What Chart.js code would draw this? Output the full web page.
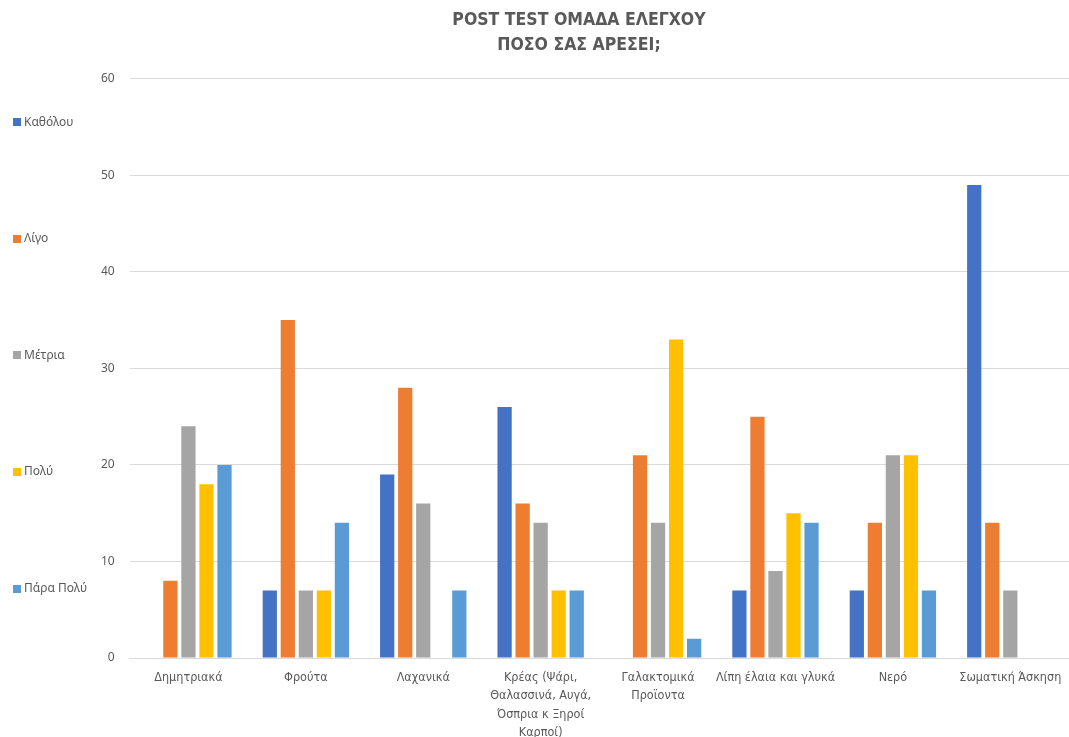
<!DOCTYPE html>
<html>
<head>
<meta charset="utf-8">
<script src="https://cdn.jsdelivr.net/npm/chart.js@4/dist/chart.umd.min.js"></script>
<style>
  html, body { margin: 0; padding: 0; background: #ffffff; overflow: hidden; }
  #wrap { width: 1069px; height: 737px; }
</style>
</head>
<body>
<div id="wrap"><canvas id="chart" width="1069" height="737"></canvas></div>
<script>
// Food groups (x axis), wrapped into lines the way they are printed under the bars
const categories = [
  'Δημητριακά',
  'Φρούτα',
  'Λαχανικά',
  ['Κρέας (Ψάρι,', 'Θαλασσινά, Αυγά,', 'Όσπρια κ Ξηροί', 'Καρποί)'],
  ['Γαλακτομικά', 'Προϊοντα'],
  'Λίπη έλαια και γλυκά',
  'Νερό',
  'Σωματική Άσκηση'
];

// Answers to "how much do you like it", one array per answer
const seriesNames = ['Καθόλου', 'Λίγο', 'Μέτρια', 'Πολύ', 'Πάρα Πολύ'];
const kathólou  = [0, 7, 19, 26, 0, 7, 7, 49];
const ligo      = [8, 35, 28, 16, 21, 25, 14, 14];
const metria    = [24, 7, 16, 14, 14, 9, 21, 7];
const poly      = [18, 7, 0, 7, 33, 15, 21, 0];
const paraPoly  = [20, 14, 7, 7, 2, 14, 7, 0];

const yTicks = [0, 10, 20, 30, 40, 50, 60];

const seriesValues = [kathólou, ligo, metria, poly, paraPoly];
const seriesColors = ['#4472C4', '#ED7D31', '#A5A5A5', '#FFC000', '#5B9BD5'];

const textColor = '#595959';
const gridColor = '#D9D9D9';
const narrowFont = '"DejaVu Sans Condensed", "Liberation Sans Narrow", sans-serif';

// Legend stacked down the left edge, spread over the height of the plot
const sideLegend = {
  id: 'sideLegend',
  afterDraw(chart) {
    const { ctx, chartArea } = chart;
    const h = chartArea.bottom - chartArea.top;
    ctx.save();
    ctx.font = '12px "Noto Sans", "DejaVu Sans", sans-serif';
    ctx.textBaseline = 'middle';
    ctx.textAlign = 'left';
    chart.data.datasets.forEach((ds, i) => {
      const cy = chartArea.top + h * (0.075 + 0.2013 * i);
      ctx.fillStyle = ds.backgroundColor;
      ctx.fillRect(13, Math.round(cy - 4), 8, 8);
      ctx.fillStyle = textColor;
      ctx.fillText(ds.label, 24, cy);
    });
    ctx.restore();
  }
};

new Chart(document.getElementById('chart'), {
  type: 'bar',
  data: {
    labels: categories,
    datasets: seriesNames.map((name, i) => ({
      label: name,
      data: seriesValues[i],
      backgroundColor: seriesColors[i],
      borderWidth: 0,
      categoryPercentage: 0.768,
      barPercentage: 0.79
    }))
  },
  options: {
    responsive: false,
    animation: false,
    devicePixelRatio: 1,
    layout: { padding: { left: 86, right: -3, top: 0, bottom: 0 } },
    plugins: {
      legend: { display: false },
      tooltip: { enabled: false },
      title: {
        display: true,
        text: ['POST TEST ΟΜΑΔΑ ΕΛΕΓΧΟΥ', 'ΠΟΣΟ ΣΑΣ ΑΡΕΣΕΙ;'],
        color: textColor,
        font: { family: narrowFont, size: 17.5, weight: 'bold', lineHeight: 1.42 },
        padding: { top: 8, bottom: 21 }
      }
    },
    scales: {
      x: {
        grid: { display: false, drawTicks: false },
        border: { display: true, color: gridColor, width: 1 },
        ticks: {
          autoSkip: false,
          maxRotation: 0,
          minRotation: 0,
          padding: 10,
          color: textColor,
          font: { family: narrowFont, size: 12.5, lineHeight: 1.48 }
        },
        afterFit(scale) {
          scale.height = 79;
          scale.paddingLeft = 0;
          scale.paddingRight = 0;
        }
      },
      y: {
        min: yTicks[0],
        max: yTicks[yTicks.length - 1],
        afterBuildTicks(scale) { scale.ticks = yTicks.map(v => ({ value: v })); },
        grid: { color: gridColor, lineWidth: 1, drawTicks: false },
        border: { display: false },
        ticks: {
          padding: 15,
          color: textColor,
          font: { family: '"Noto Sans", "DejaVu Sans", sans-serif', size: 12 }
        }
      }
    }
  },
  plugins: [sideLegend]
});
</script>
</body>
</html>
